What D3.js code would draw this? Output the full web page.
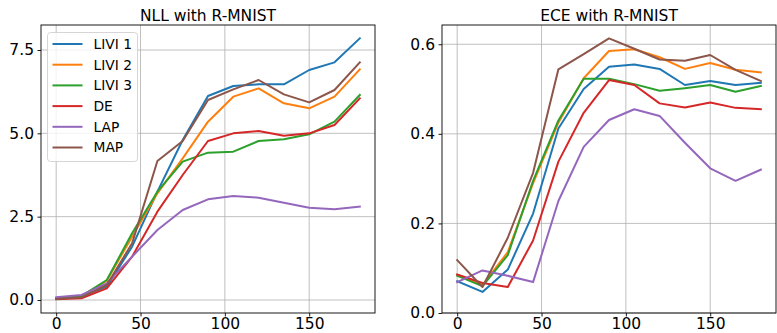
<!DOCTYPE html>
<html>
<head>
<meta charset="utf-8">
<script src="https://cdn.jsdelivr.net/npm/d3@7"></script>
<style>
  body { margin: 0; background: #fff; }
  svg { font-family: "DejaVu Sans", sans-serif; }
</style>
</head>
<body>
<svg width="777" height="333"></svg>
<script>
var steps = [0, 15, 30, 45, 60, 75, 90, 105, 120, 135, 150, 165, 180];
var methods = ["LIVI 1", "LIVI 2", "LIVI 3", "DE", "LAP", "MAP"];
var colors = ["#1f77b4", "#ff7f0e", "#2ca02c", "#d62728", "#9467bd", "#8c564b"];

// NLL per method
var nllLivi1 = [0.05, 0.10, 0.40, 1.60, 3.25, 4.80, 6.12, 6.42, 6.47, 6.47, 6.90, 7.13, 7.85];
var nllLivi2 = [0.05, 0.12, 0.58, 1.90, 3.20, 4.25, 5.35, 6.10, 6.35, 5.90, 5.75, 6.10, 6.92];
var nllLivi3 = [0.05, 0.12, 0.60, 2.00, 3.25, 4.15, 4.42, 4.45, 4.77, 4.82, 4.97, 5.35, 6.15];
var nllDe    = [0.02, 0.05, 0.35, 1.30, 2.65, 3.75, 4.77, 5.00, 5.07, 4.93, 5.00, 5.25, 6.05];
var nllLap   = [0.08, 0.15, 0.50, 1.30, 2.10, 2.70, 3.02, 3.12, 3.07, 2.92, 2.77, 2.72, 2.80];
var nllMap   = [0.03, 0.08, 0.45, 1.70, 4.17, 4.77, 6.00, 6.32, 6.60, 6.17, 5.93, 6.30, 7.13];

// ECE per method
var eceLivi1 = [0.071, 0.047, 0.097, 0.222, 0.412, 0.500, 0.550, 0.555, 0.545, 0.509, 0.518, 0.509, 0.514];
var eceLivi2 = [0.085, 0.062, 0.136, 0.290, 0.425, 0.524, 0.585, 0.589, 0.571, 0.545, 0.558, 0.543, 0.537];
var eceLivi3 = [0.083, 0.060, 0.129, 0.295, 0.430, 0.523, 0.523, 0.511, 0.496, 0.502, 0.509, 0.494, 0.507];
var eceDe    = [0.086, 0.067, 0.058, 0.162, 0.338, 0.447, 0.520, 0.509, 0.468, 0.459, 0.470, 0.458, 0.455];
var eceLap   = [0.069, 0.095, 0.083, 0.069, 0.250, 0.371, 0.431, 0.455, 0.440, 0.380, 0.323, 0.295, 0.320];
var eceMap   = [0.118, 0.058, 0.168, 0.313, 0.544, 0.578, 0.613, 0.590, 0.566, 0.563, 0.576, 0.543, 0.518];

var xTicks = [0, 50, 100, 150];
var nllTicks = [0, 2.5, 5, 7.5];
var eceTicks = [0, 0.2, 0.4, 0.6];

var svg = d3.select("svg");

function panel(opts) {
	var g = svg.append("g");
	var x = d3.scaleLinear().domain([-9, 189]).range([opts.left, opts.right]);
	var y = d3.scaleLinear().domain(opts.ydom).range([opts.bottom, opts.top]);

	// grid
	g.append("g").selectAll("line.gx").data(xTicks).enter().append("line")
		.attr("x1", function(d) { return x(d); }).attr("x2", function(d) { return x(d); })
		.attr("y1", opts.top).attr("y2", opts.bottom)
		.attr("stroke", "#b0b0b0").attr("stroke-width", 0.8);
	g.append("g").selectAll("line.gy").data(opts.yticks).enter().append("line")
		.attr("y1", function(d) { return y(d); }).attr("y2", function(d) { return y(d); })
		.attr("x1", opts.left).attr("x2", opts.right)
		.attr("stroke", "#b0b0b0").attr("stroke-width", 0.8);

	var line = d3.line()
		.x(function(d, i) { return x(steps[i]); })
		.y(function(d) { return y(d); });

	opts.series.forEach(function(s, i) {
		g.append("path").datum(s)
			.attr("d", line)
			.attr("fill", "none")
			.attr("stroke", colors[i])
			.attr("stroke-width", 2)
			.attr("stroke-linejoin", "round")
			.attr("stroke-linecap", "square");
	});

	// frame
	g.append("rect")
		.attr("x", opts.left).attr("y", opts.top)
		.attr("width", opts.right - opts.left).attr("height", opts.bottom - opts.top)
		.attr("fill", "none").attr("stroke", "#000").attr("stroke-width", 0.9);

	var xAxis = d3.axisBottom(x).tickValues(xTicks).tickSize(3.5).tickPadding(1.5).tickFormat(d3.format("d"));
	var yAxis = d3.axisLeft(y).tickValues(opts.yticks).tickSize(3.5).tickPadding(3.5).tickFormat(opts.fmt);

	var xa = g.append("g").attr("transform", "translate(0," + opts.bottom + ")").call(xAxis);
	var ya = g.append("g").attr("transform", "translate(" + opts.left + ",0)").call(yAxis);
	[xa, ya].forEach(function(a) {
		a.select(".domain").remove();
		a.selectAll("text").attr("font-size", 15.5).attr("fill", "#000").attr("font-family", "DejaVu Sans");
		a.selectAll("line").attr("stroke", "#000").attr("stroke-width", 0.9);
	});

	g.append("text")
		.attr("x", (opts.left + opts.right) / 2).attr("y", opts.top - 4)
		.attr("text-anchor", "middle").attr("font-size", 15.5)
		.text(opts.title);

	return { g: g, x: x, y: y };
}

var p1 = panel({
	left: 41, right: 375, top: 25, bottom: 313,
	ydom: [-0.39, 8.25], yticks: nllTicks, fmt: d3.format(".1f"),
	series: [nllLivi1, nllLivi2, nllLivi3, nllDe, nllLap, nllMap],
	title: "NLL with R-MNIST"
});

panel({
	left: 442, right: 776, top: 25, bottom: 313,
	ydom: [0, 0.643], yticks: eceTicks, fmt: d3.format(".1f"),
	series: [eceLivi1, eceLivi2, eceLivi3, eceDe, eceLap, eceMap],
	title: "ECE with R-MNIST"
});

// legend
var lg = p1.g.append("g").attr("transform", "translate(47.5,32.5)");
lg.append("rect").attr("width", 90).attr("height", 129).attr("rx", 3)
	.attr("fill", "#fff").attr("fill-opacity", 0.8).attr("stroke", "#d0d0d0").attr("stroke-width", 0.9);
methods.forEach(function(m, i) {
	var yy = 11.5 + i * 20.7;
	lg.append("line").attr("x1", 5).attr("x2", 35).attr("y1", yy).attr("y2", yy)
		.attr("stroke", colors[i]).attr("stroke-width", 2);
	lg.append("text").attr("x", 46).attr("y", yy).attr("dy", "0.36em")
		.attr("font-size", 13.8).text(m);
});
</script>
</body>
</html>
